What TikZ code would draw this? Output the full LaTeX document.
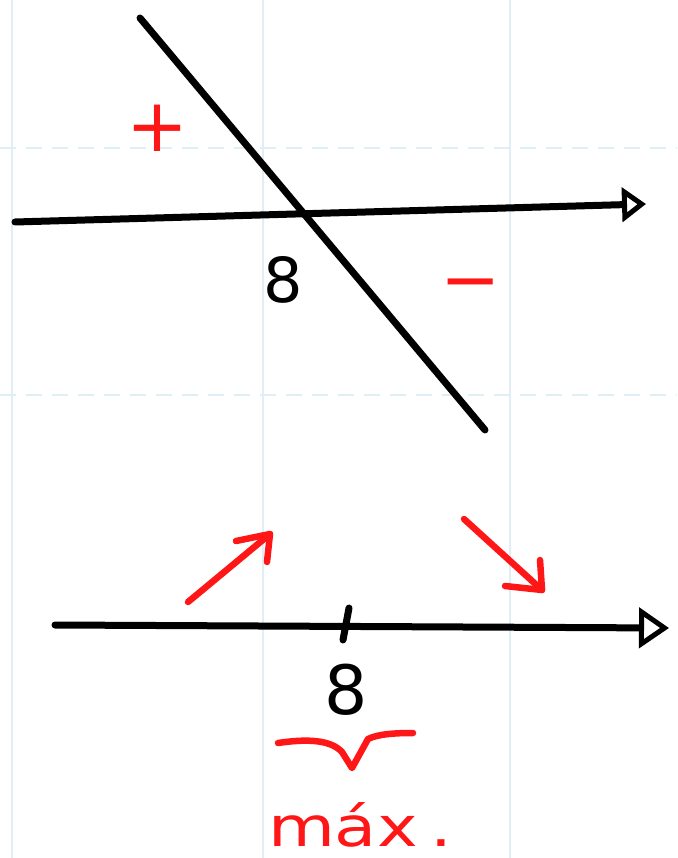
\documentclass[tikz,border=0pt]{standalone}
\usepackage{fontspec}
\setmainfont{DejaVu Sans}
\usetikzlibrary{arrows.meta}
\definecolor{pen}{RGB}{255,22,22}
\definecolor{gridc}{RGB}{224,238,246}
\tikzset{
  ink/.style={line width=7pt, black, line cap=round, line join=round},
  redink/.style={line width=6.5pt, pen, line cap=round, line join=round},
  gridline/.style={gridc, line width=1.3pt, dash pattern=on 16pt off 10pt},
  vgrid/.style={gridc, line width=1.3pt},
  lbl/.style={inner sep=0pt, outer sep=0pt},
  opentip/.style={-{Triangle[open,length=#1,width=#1+10pt,line width=5pt]}}
}
\begin{document}
\begin{tikzpicture}[x=1pt,y=-1pt]
\useasboundingbox (0,0) rectangle (677,858);
\fill[white] (0,0) rectangle (677,858);
% faint notebook grid
\coordinate (gv1a) at (263,0); \coordinate (gv1b) at (263,858);
\coordinate (gv2a) at (510,0); \coordinate (gv2b) at (510,858);
\coordinate (gv0a) at (12,0); \coordinate (gv0b) at (12,858);
\coordinate (gh1a) at (0,148); \coordinate (gh1b) at (677,148);
\coordinate (gh2a) at (0,395); \coordinate (gh2b) at (677,395);
\draw[vgrid] (gv1a) -- (gv1b);
\draw[vgrid] (gv2a) -- (gv2b);
\draw[vgrid] (gv0a) -- (gv0b);
\draw[gridline] (gh1a) -- (gh1b);
\draw[gridline] (gh2a) -- (gh2b);
% top graph
\coordinate (s1) at (140,18); \coordinate (s2) at (485,430);
\draw[ink] (s1) -- (s2);
\coordinate (a1) at (15,222); \coordinate (a2) at (646,204);
\draw[ink, opentip=24pt] (a1) -- (a2);
\node[lbl, font=\fontsize{62}{62}\selectfont] (eightA) at (283,280) {8};
\node[lbl, text=pen, font=\fontsize{74}{74}\selectfont] (plus) at (157,128) {+};
\node[lbl, text=pen, font=\fontsize{72}{72}\selectfont] (minus) at (471,292) {−};
% bottom number line
\coordinate (b1) at (55,625); \coordinate (b2) at (669,628);
\draw[ink, opentip=30pt] (b1) -- (b2);
\coordinate (t1) at (349,608); \coordinate (t2) at (343,640);
\draw[ink] (t1) -- (t2);
\node[lbl, font=\fontsize{68}{68}\selectfont] (eightB) at (346,690) {8};
% red arrows
\coordinate (u0) at (188,602); \coordinate (u1) at (270,534);
\coordinate (ub1) at (236,541); \coordinate (ub2) at (267,562);
\draw[redink] (u0) -- (u1);
\draw[redink] (ub1) -- (u1) -- (ub2);
\coordinate (d0) at (464,519); \coordinate (d1) at (542,590);
\coordinate (db1) at (505,586); \coordinate (db2) at (540,560);
\draw[redink] (d0) -- (d1);
\draw[redink] (db1) -- (d1) -- (db2);
% brace
\coordinate (br1) at (278,743); \coordinate (br2) at (352,768); \coordinate (br3) at (413,733);
\draw[redink] (br1) .. controls (305,739) and (330,739) .. (342,752) -- (br2)
  -- (368,739) .. controls (378,734) and (395,733) .. (br3);
\node[lbl, text=pen, anchor=base west, xscale=1.25, font=\fontsize{55}{55}\selectfont] (maxl) at (268,846) {máx\hspace{10pt}.};
\end{tikzpicture}
\end{document}
